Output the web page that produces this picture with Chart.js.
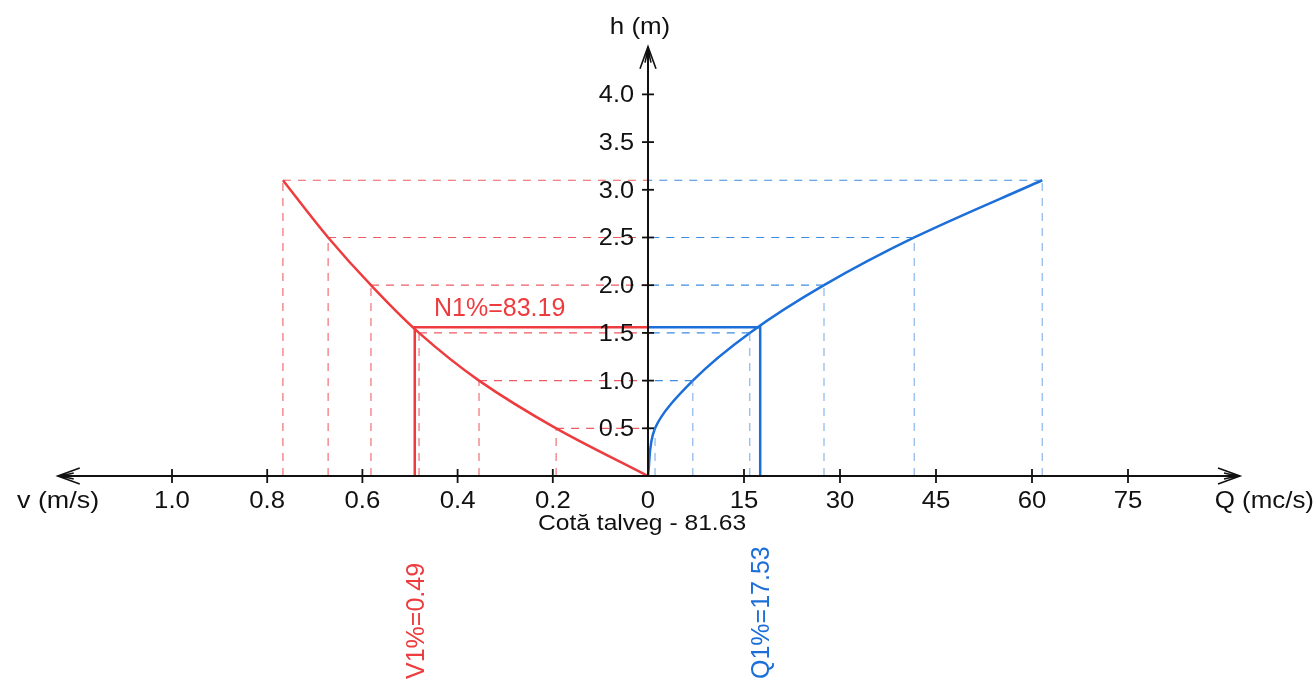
<!DOCTYPE html>
<html>
<head>
<meta charset="utf-8">
<title>Cheie limnimetrica</title>
<script src="https://cdn.jsdelivr.net/npm/chart.js@4.4.1/dist/chart.umd.min.js"></script>
<style>
    html, body { margin: 0; padding: 0; background: #fff; }
    canvas { display: block; }
</style>
</head>
<body>
<canvas id="curveChart" width="1316" height="689"></canvas>
<script>
// values
const hLevels = [0, 0.5, 1.0, 1.5, 2.0, 2.5, 3.1];          // h (m)
const vValues = [0, 0.193, 0.355, 0.481, 0.582, 0.672, 0.767]; // v (m/s)
const qValues = [0, 1.1, 7.0, 15.9, 27.5, 41.6, 61.6];        // Q (mc/s)

const vTicks = [1.0, 0.8, 0.6, 0.4, 0.2];
const qTicks = [15, 30, 45, 60, 75];
const hTicks = [0.5, 1.0, 1.5, 2.0, 2.5, 3.0, 3.5, 4.0];

const cotaTalveg = 81.63;
const nivel1 = 83.19;
const v1 = 0.49;
const q1 = 17.53;
const h1 = +(nivel1 - cotaTalveg).toFixed(2);

const RED = '#ee3b3e';
const BLUE = '#1c6fd9';
const FONT = '"Liberation Sans", Arial, sans-serif';

// guide lines (dashed) built from the readings, null breaks between pieces
function guides(xs, ys, horizontal) {
    const pts = [];
    for (let i = 1; i < xs.length; i++) {
        if (horizontal) {
            pts.push({ x: xs[i], y: ys[i] }, { x: 0, y: ys[i] });
        } else {
            pts.push({ x: xs[i], y: 0 }, { x: xs[i], y: ys[i] });
        }
        pts.push({ x: 0, y: null });
    }
    return pts;
}

function curve(xs, ys) {
    return xs.map((x, i) => ({ x: x, y: ys[i] }));
}

const dashed = (data, axis, color) => ({
    data: data,
    xAxisID: axis,
    borderColor: color,
    borderWidth: 1.2,
    borderDash: [8, 7],
    pointRadius: 0,
    spanGaps: false,
    fill: false
});

const datasets = [
    dashed(guides(vValues, hLevels, true), 'xv', 'rgba(234,64,72,0.85)'),
    dashed(guides(vValues, hLevels, false), 'xv', 'rgba(234,64,72,0.75)'),
    dashed(guides(qValues, hLevels, true), 'xq', 'rgba(40,128,220,0.9)'),
    dashed(guides(qValues, hLevels, false), 'xq', 'rgba(90,150,225,0.7)'),
    {
        // V1% level
        data: [{ x: v1, y: 0 }, { x: v1, y: h1 }, { x: 0, y: h1 }],
        xAxisID: 'xv', borderColor: RED, borderWidth: 2.5, pointRadius: 0, tension: 0
    },
    {
        // Q1% level
        data: [{ x: 0, y: h1 }, { x: q1, y: h1 }, { x: q1, y: 0 }],
        xAxisID: 'xq', borderColor: BLUE, borderWidth: 2.5, pointRadius: 0, tension: 0
    },
    {
        label: 'v',
        data: curve(vValues, hLevels),
        indexAxis: 'y',
        xAxisID: 'xv', borderColor: RED, borderWidth: 2.5, pointRadius: 0,
        cubicInterpolationMode: 'monotone'
    },
    {
        label: 'Q',
        data: curve(qValues, hLevels),
        indexAxis: 'y',
        xAxisID: 'xq', borderColor: BLUE, borderWidth: 2.5, pointRadius: 0,
        cubicInterpolationMode: 'monotone'
    }
];

function text(ctx, str, x, y, size, color, align, sx) {
    ctx.save();
    ctx.font = size + 'px ' + FONT;
    ctx.fillStyle = color;
    ctx.textAlign = align || 'left';
    ctx.textBaseline = 'alphabetic';
    ctx.translate(x, y);
    ctx.scale(sx || 1, 1);
    ctx.fillText(str, 0, 0);
    ctx.restore();
}

function seg(ctx, x1, y1, x2, y2) {
    ctx.beginPath();
    ctx.moveTo(x1, y1);
    ctx.lineTo(x2, y2);
    ctx.stroke();
}

// open arrow head pointing along (dx, dy)
function arrowHead(ctx, x, y, dx, dy) {
    const px = -dy, py = dx;
    ctx.beginPath();
    ctx.moveTo(x - dx * 22 + px * 8, y - dy * 22 + py * 8);
    ctx.lineTo(x, y);
    ctx.lineTo(x - dx * 22 - px * 8, y - dy * 22 - py * 8);
    ctx.moveTo(x - dx * 16 + px * 3, y - dy * 16 + py * 3);
    ctx.lineTo(x - dx * 3, y - dy * 3);
    ctx.lineTo(x - dx * 16 - px * 3, y - dy * 16 - py * 3);
    ctx.stroke();
}

const axesPlugin = {
    id: 'axes',
    afterDatasetsDraw(chart) {
        const { ctx } = chart;
        const xv = chart.scales.xv, xq = chart.scales.xq, y = chart.scales.y;
        const x0 = xq.getPixelForValue(0);
        const y0 = y.getPixelForValue(0);
        const xl = xv.getPixelForValue(1.24);
        const xr = xq.getPixelForValue(92.5);
        const yt = y.getPixelForValue(4.5);

        ctx.save();
        ctx.strokeStyle = '#111';
        ctx.lineWidth = 2;
        seg(ctx, xl, y0, xr, y0);
        seg(ctx, x0, y0, x0, yt);
        ctx.lineWidth = 1.6;
        arrowHead(ctx, xl, y0, -1, 0);
        arrowHead(ctx, xr, y0, 1, 0);
        arrowHead(ctx, x0, yt, 0, -1);

        ctx.lineWidth = 1.8;
        vTicks.forEach(v => {
            const px = xv.getPixelForValue(v);
            seg(ctx, px, y0 - 7, px, y0 + 7);
            text(ctx, v.toFixed(1), px, 508, 23, '#111', 'center', 1.12);
        });
        qTicks.forEach(q => {
            const px = xq.getPixelForValue(q);
            seg(ctx, px, y0 - 7, px, y0 + 7);
            text(ctx, String(q), px, 508, 23, '#111', 'center', 1.12);
        });
        text(ctx, '0', x0, 508, 23, '#111', 'center', 1.12);
        hTicks.forEach(h => {
            const py = y.getPixelForValue(h);
            seg(ctx, x0 - 6, py, x0 + 6, py);
            text(ctx, h.toFixed(1), x0 - 14, py + 8, 23, '#111', 'right', 1.1);
        });

        text(ctx, 'v (m/s)', 17, 508, 24, '#111', 'left', 1.12);
        text(ctx, 'Q (mc/s)', 1314, 508, 24, '#111', 'right', 1.08);
        text(ctx, 'h (m)', x0 - 8, 34, 24, '#111', 'center', 1.08);
        text(ctx, 'Cotă talveg - ' + cotaTalveg.toFixed(2), 642, 530, 22, '#111', 'center', 1.12);

        // level annotations
        text(ctx, 'N1%=' + nivel1.toFixed(2), 434, 316, 25, RED, 'left', 1);
        [[v1, xv, RED, 'V1%='], [q1, xq, BLUE, 'Q1%=']].forEach(([val, sc, col, pre]) => {
            ctx.save();
            ctx.translate(sc.getPixelForValue(val) + 9, 679);
            ctx.rotate(-Math.PI / 2);
            text(ctx, pre + val.toFixed(2), 0, 0, 25, col, 'left', 1);
            ctx.restore();
        });
        ctx.restore();
    }
};

new Chart(document.getElementById('curveChart'), {
    type: 'line',
    data: { datasets: datasets },
    options: {
        responsive: false,
        animation: false,
        events: [],
        layout: { padding: { left: 40, right: 66, top: 40, bottom: 3 } },
        plugins: { legend: { display: false }, tooltip: { enabled: false } },
        scales: {
            xv: { type: 'linear', reverse: true, min: -1.2647, max: 1.2773, display: false },
            xq: { type: 'linear', min: -95, max: 94.0625, display: false },
            y: { type: 'linear', min: -2.201, max: 4.570, display: false }
        }
    },
    plugins: [axesPlugin]
});
</script>
</body>
</html>
